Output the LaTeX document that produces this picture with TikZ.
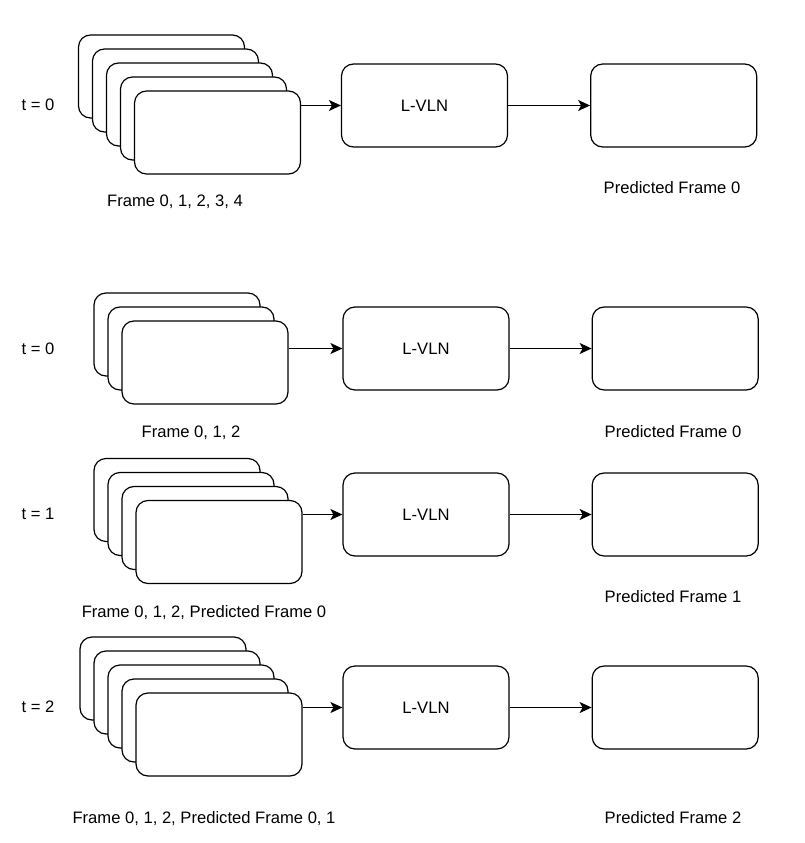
\documentclass[tikz,border=0pt]{standalone}
\usepackage{fontspec}
\setmainfont{Liberation Sans}
\usetikzlibrary{arrows.meta, positioning}

\begin{document}
\begin{tikzpicture}[
    x=1pt, y=-1pt,
    line width=1.2pt,
    font=\fontsize{16.6}{19}\selectfont,
    >={Stealth[length=12pt, width=11pt, inset=3pt]},
    card/.style={draw, fill=white, rounded corners=12pt, minimum width=166pt, minimum height=83pt},
    block/.style={card},
    lbl/.style={text height=11pt, text depth=0pt}
]
\useasboundingbox (0,0) rectangle (805,843);

% t = 0, five frames
\foreach \i in {4,...,0}
    \node[card] (fa\i) at (217.5-14*\i, 132.5-14*\i) {};
\node[block] (la) at (424.5, 105.5) {L-VLN};
\node[block] (pa) [right=82pt of la] {};
\node[lbl] (ta) at (38, 105) {t = 0};
\node[lbl] (ina) at (175, 201) {Frame 0, 1, 2, 3, 4};
\node[lbl] (outa) at (672, 188) {Predicted Frame 0};

% t = 0, three frames
\foreach \i in {2,...,0}
    \node[card] (fb\i) at (205-14*\i, 362.5-14*\i) {};
\node[block] (lb) at (426, 348.5) {L-VLN};
\node[block] (pb) [right=82pt of lb] {};
\node[lbl] (tb) at (38, 349) {t = 0};
\node[lbl] (inb) at (191, 432) {Frame 0, 1, 2};
\node[lbl] (outb) at (673, 432) {Predicted Frame 0};

% t = 1
\foreach \i in {3,...,0}
    \node[card] (fc\i) at (219-14*\i, 542-14*\i) {};
\node[block] (lc) at (426, 514.5) {L-VLN};
\node[block] (pc) [right=82pt of lc] {};
\node[lbl] (tc) at (38, 514) {t = 1};
\node[lbl] (inc) at (204, 612) {Frame 0, 1, 2, Predicted Frame 0};
\node[lbl] (outc) at (673, 597) {Predicted Frame 1};

% t = 2
\foreach \i in {4,...,0}
    \node[card] (fd\i) at (219-14*\i, 734.5-14*\i) {};
\node[block] (ld) at (426, 707.5) {L-VLN};
\node[block] (pd) [right=82pt of ld] {};
\node[lbl] (td) at (38, 707) {t = 2};
\node[lbl] (ind) at (204, 818) {Frame 0, 1, 2, Predicted Frame 0, 1};
\node[lbl] (outd) at (673, 818) {Predicted Frame 2};

\path[->]
    (fa0.east |- la.west) edge (la.west)
    (la) edge (pa)
    (fb0.east |- lb.west) edge (lb.west)
    (lb) edge (pb)
    (fc0.east |- lc.west) edge (lc.west)
    (lc) edge (pc)
    (fd0.east |- ld.west) edge (ld.west)
    (ld) edge (pd)
    ;

\end{tikzpicture}
\end{document}
